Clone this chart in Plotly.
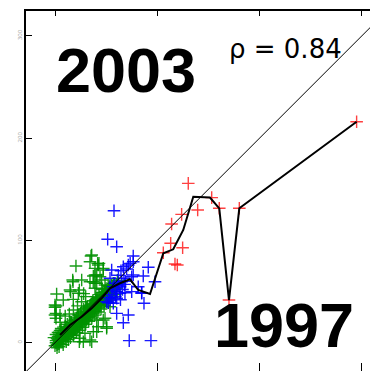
import plotly.graph_objects as go

# 1997 values on x, 2003 values on y
green_x = [0, 1, -1, 2, 2, 3, 1, 3, 4, 5, 4, 5, 6, 7, 7, 8, 6, 8, 9, 10, 9, 10, 11,
           12, 12, 13, 12, 13, 14, 15, 15, 16, 15, 16, 17, 18, 18, 19, 18, 19, 20,
           21, 21, 22, 21, 22, 23, 24, 24, 25, 24, 25, 26, 27, 27, 28, 27, 28, 29,
           30, 30, 31, 30, 31, 32, 33, 33, 34, 33, 34, 35, 36, 36, 37, 36, 37, 38,
           39, 39, 40, 39, 40, 41, 42, 42, 43, 42, 43, 44, 45, 45, 46, 45, 46, 47,
           48, 48, 49, 48, 49, 50, 51, 51, 52, 52, 53, 53, 54, 55, 55, 56, 57, 56,
           58, 59, 60, 61, 59,
           35.2, 20.5, 34.2, 43.0, 47.2, 17.3, 26.1, 1.6, 1.0, 1.0, 1.0, 15.3, 8.1,
           48.9, 50.5, 40.8, 35.9, 27.7, 23.8, 44.0, 39.1, 41.7, 23.8, 17.9, 0.0,
           37.5, 39.1, 0.0, 0.0, 4.9, 29.3, 37.5, 42.3, 40.8, 24.4, 17.6, 14.7, 22.8,
           34.2, 40.8, 47.2, 50.5, 34.2, 47.2, 53.8, 17.9, 35.9, 42.3, 39.1, 45.6,
           37.4, 40.8, 48.9, 39.1, 5, 10, 14, 18, 22, 26, 30, 28,
           1, 3, 5, 6, 8, 9, 10, 11, 11, 13, 14, 14, 16, 17, 17, 19, 20, 20, 22, 23,
           23, 25, 26, 26, 28, 29, 29, 31, 32, 32, 34, 35, 35, 37, 38, 38, 40, 41,
           41, 43, 44, 44, 46, 47, 47, 49, 50, 50, 52, 53, 54, 55, 56, 57, 58, 60,
           62, 3, 6, 10, 13, 16, 19, 22, 25, 28, 31, 34, 37, 40, 43, 46, 49, 52,
           55, 2, 4, 7, 11, 15]
green_y = [-3, 2, 5, -5, 4, -1, 8, 10, 1, 6, -4, 12, 3, 9, 2, -2, 14, 5, 12, 4, 7, 16, 1,
           10, 6, 14, 18, 3, 8, 12, 17, 9, 5, 20, 14, 11, 16, 22, 7, 19, 13,
           18, 24, 15, 10, 21, 27, 20, 16, 25, 12, 29, 22, 24, 19, 30, 15, 27, 22,
           26, 33, 22, 18, 29, 35, 30, 25, 36, 21, 32, 28, 33, 38, 29, 24, 41, 35,
           36, 31, 42, 27, 39, 34, 38, 44, 34, 30, 47, 40, 41, 37, 46, 33, 49, 43,
           44, 40, 50, 36, 47, 53, 47, 43, 52, 39, 55, 49, 50, 46, 56, 52, 58, 44,
           54, 50, 57, 61, 47,
           84.8, 75.0, 79.2, 77.6, 72.7, 61.3, 61.3, 47.6, 35.9, 28.7, 23.9, 49.9, 41.7,
           23.9, 15.6, 10.8, 1.0, 1.0, 1.0, 64.5, 66.2, 77.6, 51.5, 42.4, 36.9,
           65.2, 58.1, 34.6, 27.1, 27.1, 9.2, 10.8, 15.6, 22.2, 4.3, 59.6, 51.5, 48.3,
           59.6, 66.2, 71.1, 14.1, 2.6, 22.2, 35.2, 7.5, 85.7, 76.0, 72.7, 61.3,
           59.6, 58.1, 56.4, 53.2, 20, 26, 28, 32, 36, 40, 45, 48,
           0, 3, 2, 7, 8, 10, 9, 12, 7, 11, 13, 16, 14, 17, 11, 16, 19, 22, 19, 23,
           17, 21, 26, 19, 24, 28, 31, 26, 30, 25, 29, 34, 37, 33, 38, 31, 36, 40,
           43, 39, 44, 36, 41, 46, 49, 44, 48, 42, 47, 51, 54, 50, 55, 52, 57, 53,
           58, 6, 10, 13, 7, 18, 13, 25, 18, 33, 34, 26, 37, 45, 37, 52, 41, 56,
           48, -2, -1, 4, 15, 20]

blue_x = [57.7, 51.5, 60.3, 76.5, 76.5, 71.7, 66.8, 64.5, 91.2, 86.3, 97.8, 75.0, 67.4,
          53.8, 57.0, 63.5, 60.3, 68.4, 84.8, 53.8, 52.1, 60.3, 87.0, 60.3, 71.7, 66.8,
          72.6, 93.8, 81.4, 55.4, 76.5, 65.2, 50.5, 57.0, 63.5, 75.0, 84.7, 58.5,
          62.0, 70.0, 73.5, 55.0, 59.0, 66.0, 69.0, 52.5, 56.5, 61.5, 64.0, 68.0]
blue_y = [129.0, 101.1, 93.8, 84.8, 79.2, 76.0, 74.3, 70.4, 73.7, 65.2, 59.6, 64.5, 63.0,
          63.0, 54.7, 54.7, 49.9, 48.9, 48.9, 41.7, 39.1, 43.4, 38.5, 28.7, 27.1, 19.5,
          2.0, 2.0, 54.7, 71.1, 66.2, 59.6, 40.1, 38.5, 48.3, 49.9, 48.3, 58.1,
          66.0, 72.0, 77.6, 47.0, 45.0, 52.0, 60.0, 44.0, 51.5, 56.0, 42.0, 57.0]

red_x = [130.3, 153.2, 160.6, 139.5, 123.8, 114.0, 180.2, 170.1, 113.1, 105.9,
         124.8, 117.3, 119.6, 294.9]
red_y = [155.8, 141.8, 131.4, 129.7, 125.5, 116.0, 131.4, 41.7, 97.2, 88.0,
         92.9, 76.9, 76.0, 216.0]

# running mean curve
trend_x = [4.9, 14.7, 26.1, 35.9, 45.6, 53.8, 63.5, 73.3, 81.4, 92.9, 105.9, 115.6,
           125.4, 135.2, 151.5, 160.6, 170.1, 180.2, 294.9]
trend_y = [7.5, 17.3, 25.4, 33.6, 43.4, 53.2, 58.1, 62.0, 51.5, 47.6, 87.4, 91.3,
           110.2, 142.7, 141.9, 131.4, 41.7, 131.4, 216.0]

diag = [-40, 340]
tick_vals = [0, 100, 200, 300]
tick_text = ["0", "100", "200", "300"]


def crosses(xs, ys, color):
    return go.Scatter(
        x=xs, y=ys, mode="markers", showlegend=False,
        marker=dict(symbol="cross-thin", size=9,
                    line=dict(color=color, width=1.4)),
    )


fig = go.Figure()
fig.add_trace(crosses(green_x, green_y, "rgba(0,145,0,0.9)"))
fig.add_trace(crosses(blue_x, blue_y, "rgba(0,0,255,0.9)"))
fig.add_trace(crosses(red_x, red_y, "rgba(255,0,0,0.75)"))
fig.add_trace(go.Scatter(x=diag, y=diag, mode="lines", showlegend=False,
                         line=dict(color="black", width=1)))
fig.add_trace(go.Scatter(x=trend_x, y=trend_y, mode="lines", showlegend=False,
                         line=dict(color="black", width=2)))
# top frame with inside ticks
fig.add_trace(go.Scatter(x=[None], y=[None], xaxis="x2", showlegend=False))

fig.update_layout(
    width=370, height=371,
    margin=dict(l=26, r=0, t=11, b=0),
    plot_bgcolor="white", paper_bgcolor="white",
    xaxis=dict(range=[-28.35, 307.98], tickvals=tick_vals, ticks="inside",
               ticklen=8, tickwidth=1, tickcolor="black", showticklabels=False,
               showline=False, showgrid=False, zeroline=False),
    xaxis2=dict(range=[-28.35, 307.98], overlaying="x", side="top",
                tickvals=tick_vals, ticks="inside", ticklen=5, tickwidth=1,
                tickcolor="black", showticklabels=False, showline=True,
                linecolor="black", linewidth=1.5, showgrid=False, zeroline=False),
    yaxis=dict(range=[-27.67, 324.3], tickvals=tick_vals, ticktext=tick_text,
               ticks="inside", ticklen=6, tickwidth=1, tickcolor="black",
               tickangle=-90, tickfont=dict(size=6, color="#999999"),
               showline=True, linecolor="black", linewidth=1.5,
               showgrid=False, zeroline=False),
    annotations=[
        dict(text="<b>2003</b>", xref="paper", yref="paper", x=0.082, y=0.835,
             xanchor="left", yanchor="middle", showarrow=False,
             font=dict(family="Liberation Sans, Arial", size=63, color="black")),
        dict(text="<b>1997</b>", xref="paper", yref="paper", x=0.75, y=0.128,
             xanchor="center", yanchor="middle", showarrow=False,
             font=dict(family="Liberation Sans, Arial", size=63, color="black")),
        dict(text="ρ = 0.84", xref="paper", yref="paper", x=0.755, y=0.895,
             xanchor="center", yanchor="middle", showarrow=False,
             font=dict(family="DejaVu Sans", size=26, color="black")),
    ],
)

fig.write_html("out.html")
